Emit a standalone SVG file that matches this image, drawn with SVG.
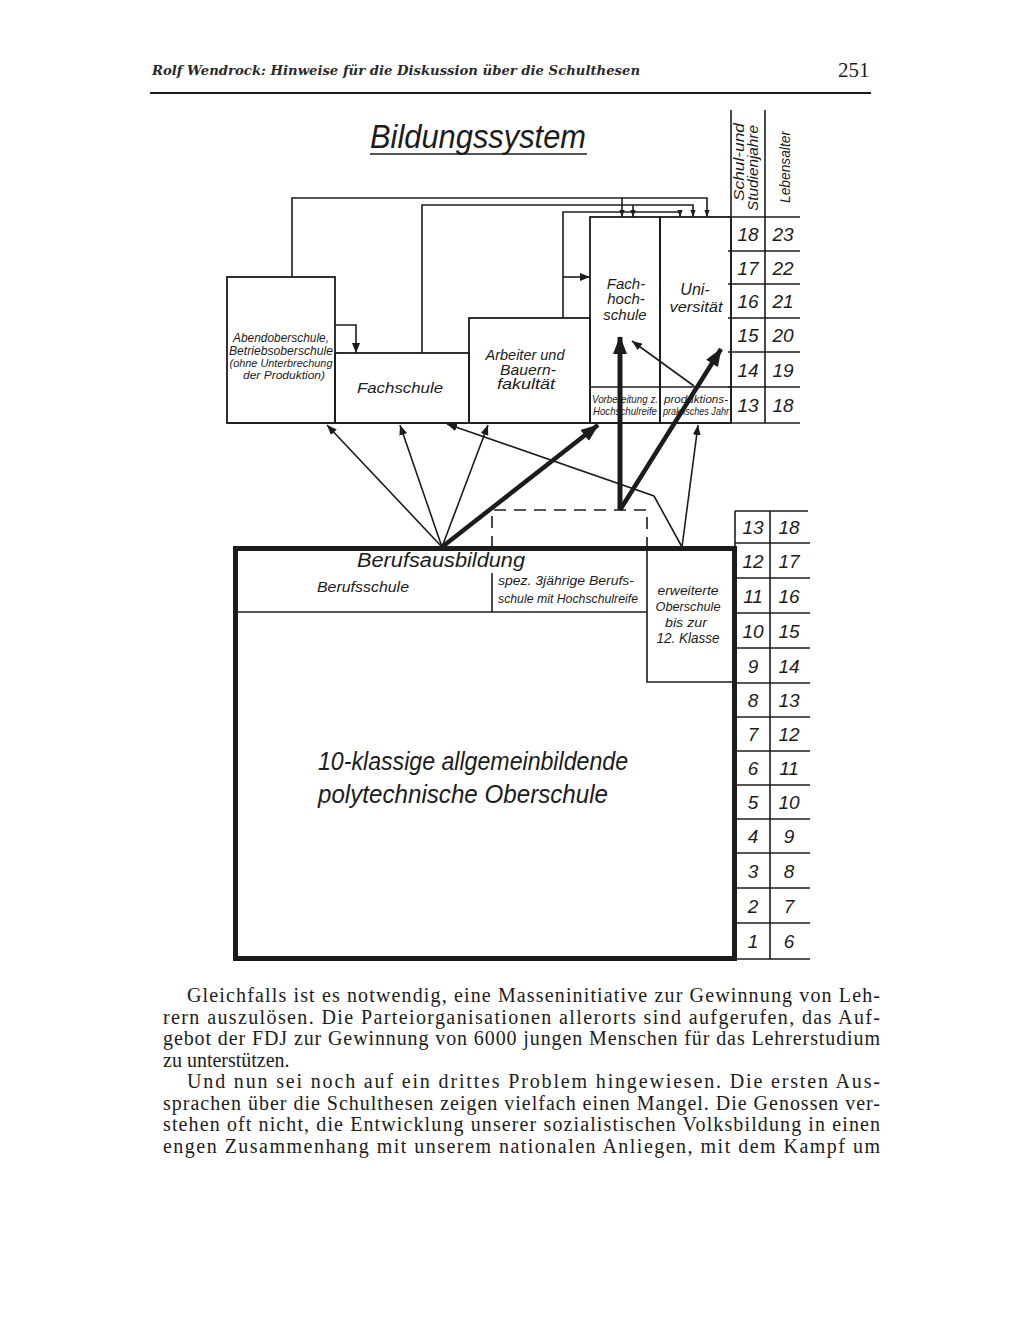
<svg xmlns="http://www.w3.org/2000/svg" width="1024" height="1324" viewBox="0 0 1024 1324">
<style>
.ln{fill:none;stroke:#1c1c1c;stroke-width:1.6}
.thick{fill:none;stroke:#1c1c1c;stroke-width:5}
.box{fill:none;stroke:#1c1c1c;stroke-width:1.8}
.d{font-family:"Liberation Sans",Arial,sans-serif;font-style:italic;fill:#1c1c1c}
.num{font-family:"Liberation Sans",Arial,sans-serif;font-style:italic;font-size:19px;fill:#1c1c1c;text-anchor:middle}
.body{font-family:"Liberation Serif","Times New Roman",serif;font-size:20px;fill:#1c1c1c}
.c{text-anchor:middle}
</style>
<defs>
<marker id="ah" viewBox="0 0 10 8" refX="10" refY="4" markerWidth="10" markerHeight="8" markerUnits="userSpaceOnUse" orient="auto"><path d="M0,0 L10,4 L0,8 z" fill="#1c1c1c"/></marker>
<marker id="ahs" viewBox="0 0 8 6" refX="8" refY="3" markerWidth="7" markerHeight="6" markerUnits="userSpaceOnUse" orient="auto"><path d="M0,0 L8,3 L0,6 z" fill="#1c1c1c"/></marker>
<marker id="ahb" viewBox="0 0 18 14" refX="17" refY="7" markerWidth="18" markerHeight="14" markerUnits="userSpaceOnUse" orient="auto"><path d="M0,0 L18,7 L0,14 z" fill="#1c1c1c"/></marker>
</defs>
<rect width="1024" height="1324" fill="#ffffff"/>

<g id="header">
<text x="152" y="75" font-family="'DejaVu Serif',serif" font-style="italic" font-weight="bold" font-size="13" fill="#2a2a2a" textLength="488" lengthAdjust="spacingAndGlyphs">Rolf Wendrock: Hinweise für die Diskussion über die Schulthesen</text>
<text x="838" y="77" font-family="'Liberation Serif',serif" font-size="21" fill="#1c1c1c">251</text>
<line x1="150" y1="93" x2="871" y2="93" stroke="#1c1c1c" stroke-width="2"/>
</g>

<g id="title">
<text x="370" y="148" class="d" font-size="33" textLength="216" lengthAdjust="spacingAndGlyphs">Bildungssystem</text>
<line x1="370" y1="154" x2="587" y2="154" stroke="#1c1c1c" stroke-width="1.6"/>
</g>

<g id="table-top">
<line class="ln" x1="731" y1="110" x2="731" y2="423"/>
<line class="ln" x1="765" y1="110" x2="765" y2="423"/>
<line class="ln" x1="728" y1="217" x2="800" y2="217"/>
<line class="ln" x1="728" y1="251" x2="800" y2="251"/>
<line class="ln" x1="728" y1="284" x2="800" y2="284"/>
<line class="ln" x1="728" y1="318" x2="800" y2="318"/>
<line class="ln" x1="728" y1="352" x2="800" y2="352"/>
<line class="ln" x1="728" y1="387" x2="800" y2="387"/>
<text class="d c" font-size="14" transform="translate(744,162) rotate(-90)" textLength="78" lengthAdjust="spacingAndGlyphs">Schul-und</text>
<text class="d c" font-size="14" transform="translate(758,168) rotate(-90)" textLength="86" lengthAdjust="spacingAndGlyphs">Studienjahre</text>
<text class="d c" font-size="14.5" transform="translate(790,167) rotate(-90)" textLength="72" lengthAdjust="spacingAndGlyphs">Lebensalter</text>
<text class="num" x="748" y="241">18</text><text class="num" x="783" y="241">23</text>
<text class="num" x="748" y="275">17</text><text class="num" x="783" y="275">22</text>
<text class="num" x="748" y="308">16</text><text class="num" x="783" y="308">21</text>
<text class="num" x="748" y="342">15</text><text class="num" x="783" y="342">20</text>
<text class="num" x="748" y="377">14</text><text class="num" x="783" y="377">19</text>
<text class="num" x="748" y="412">13</text><text class="num" x="783" y="412">18</text>
</g>

<g id="abendoberschule">
<rect class="box" x="227" y="277" width="108" height="146"/>
<text class="d c" font-size="12.5" x="281" y="342" textLength="96" lengthAdjust="spacingAndGlyphs">Abendoberschule,</text>
<text class="d c" font-size="12.5" x="281" y="355" textLength="104" lengthAdjust="spacingAndGlyphs">Betriebsoberschule</text>
<text class="d c" font-size="11.5" x="281" y="367" textLength="103" lengthAdjust="spacingAndGlyphs">(ohne Unterbrechung</text>
<text class="d c" font-size="11.5" x="284" y="379" textLength="82" lengthAdjust="spacingAndGlyphs">der Produktion)</text>
</g>

<g id="fachschule">
<rect class="box" x="335" y="353" width="134" height="70"/>
<text class="d c" font-size="15" x="400" y="393" textLength="86" lengthAdjust="spacingAndGlyphs">Fachschule</text>
</g>

<g id="abf">
<rect class="box" x="469" y="318" width="121" height="105"/>
<text class="d c" font-size="14.5" x="525" y="360" textLength="79" lengthAdjust="spacingAndGlyphs">Arbeiter und</text>
<text class="d c" font-size="14.5" x="528" y="375" textLength="56" lengthAdjust="spacingAndGlyphs">Bauern-</text>
<text class="d c" font-size="14.5" x="526" y="389" textLength="58" lengthAdjust="spacingAndGlyphs">fakultät</text>
</g>

<g id="fachhochschule">
<rect class="box" x="590" y="217" width="70" height="206"/>
<line class="ln" x1="590" y1="387" x2="731" y2="387"/>
<text class="d c" font-size="15" x="626" y="289">Fach-</text>
<text class="d c" font-size="15" x="626" y="304">hoch-</text>
<text class="d c" font-size="15" x="625" y="320">schule</text>
<text class="d c" font-size="10.5" x="625" y="403" textLength="66" lengthAdjust="spacingAndGlyphs">Vorbereitung z.</text>
<text class="d c" font-size="10.5" x="625" y="415" textLength="64" lengthAdjust="spacingAndGlyphs">Hochschulreife</text>
</g>

<g id="universitaet">
<rect class="box" x="660" y="217" width="71" height="206"/>
<text class="d c" font-size="16" x="695" y="295">Uni-</text>
<text class="d c" font-size="15" x="696" y="312" textLength="53" lengthAdjust="spacingAndGlyphs">versität</text>
<text class="d c" font-size="10.5" x="696" y="403" textLength="64" lengthAdjust="spacingAndGlyphs">produktions-</text>
<text class="d c" font-size="10.5" x="696" y="415" textLength="66" lengthAdjust="spacingAndGlyphs">praktisches Jahr</text>
</g>

<line class="ln" x1="227" y1="423" x2="800" y2="423" stroke-width="2"/>

<g id="volksschule">
<rect x="235.5" y="548.5" width="499" height="410" fill="none" stroke="#1c1c1c" stroke-width="5"/>
<text class="d c" font-size="25" x="473" y="770" textLength="310" lengthAdjust="spacingAndGlyphs">10-klassige allgemeinbildende</text>
<text class="d c" font-size="25" x="463" y="803" textLength="290" lengthAdjust="spacingAndGlyphs">polytechnische Oberschule</text>
</g>

<g id="berufsausbildung">
<line class="ln" x1="238" y1="612" x2="647" y2="612"/>
<line class="ln" x1="492" y1="573" x2="492" y2="612"/>
<text class="d c" font-size="20" x="441" y="567" textLength="168" lengthAdjust="spacingAndGlyphs">Berufsausbildung</text>
<text class="d c" font-size="14" x="363" y="592" textLength="92" lengthAdjust="spacingAndGlyphs">Berufsschule</text>
<text class="d c" font-size="12.5" x="566" y="585" textLength="136" lengthAdjust="spacingAndGlyphs">spez. 3jährige Berufs-</text>
<text class="d c" font-size="12.5" x="568" y="603" textLength="140" lengthAdjust="spacingAndGlyphs">schule mit Hochschulreife</text>
</g>

<g id="erweiterte-oberschule">
<path class="ln" d="M647,548 V682 H735"/>
<text class="d c" font-size="13.5" x="688" y="595" textLength="61" lengthAdjust="spacingAndGlyphs">erweiterte</text>
<text class="d c" font-size="13.5" x="688" y="611" textLength="65" lengthAdjust="spacingAndGlyphs">Oberschule</text>
<text class="d c" font-size="13.5" x="686" y="627" textLength="42" lengthAdjust="spacingAndGlyphs">bis zur</text>
<text class="d c" font-size="15.5" x="688" y="643" textLength="63" lengthAdjust="spacingAndGlyphs">12. Klasse</text>
</g>

<g id="dashed">
<path d="M492,548 V510 H647 V548" fill="none" stroke="#1c1c1c" stroke-width="1.6" stroke-dasharray="12,8"/>
</g>

<g id="table-bottom">
<line class="ln" x1="735" y1="511" x2="808" y2="511"/>
<line class="ln" x1="735" y1="511" x2="735" y2="548"/>
<line class="ln" x1="770" y1="511" x2="770" y2="959"/>
<line class="ln" x1="735" y1="543" x2="810" y2="543"/>
<line class="ln" x1="735" y1="578" x2="810" y2="578"/>
<line class="ln" x1="735" y1="613" x2="810" y2="613"/>
<line class="ln" x1="735" y1="648" x2="810" y2="648"/>
<line class="ln" x1="735" y1="683" x2="810" y2="683"/>
<line class="ln" x1="735" y1="717" x2="810" y2="717"/>
<line class="ln" x1="735" y1="751" x2="810" y2="751"/>
<line class="ln" x1="735" y1="785" x2="810" y2="785"/>
<line class="ln" x1="735" y1="819" x2="810" y2="819"/>
<line class="ln" x1="735" y1="853" x2="810" y2="853"/>
<line class="ln" x1="735" y1="888" x2="810" y2="888"/>
<line class="ln" x1="735" y1="923" x2="810" y2="923"/>
<line class="ln" x1="735" y1="959" x2="810" y2="959"/>
<text class="num" x="753" y="534">13</text><text class="num" x="789" y="534">18</text>
<text class="num" x="753" y="568">12</text><text class="num" x="789" y="568">17</text>
<text class="num" x="753" y="603">11</text><text class="num" x="789" y="603">16</text>
<text class="num" x="753" y="638">10</text><text class="num" x="789" y="638">15</text>
<text class="num" x="753" y="673">9</text><text class="num" x="789" y="673">14</text>
<text class="num" x="753" y="707">8</text><text class="num" x="789" y="707">13</text>
<text class="num" x="753" y="741">7</text><text class="num" x="789" y="741">12</text>
<text class="num" x="753" y="775">6</text><text class="num" x="789" y="775">11</text>
<text class="num" x="753" y="809">5</text><text class="num" x="789" y="809">10</text>
<text class="num" x="753" y="843">4</text><text class="num" x="789" y="843">9</text>
<text class="num" x="753" y="878">3</text><text class="num" x="789" y="878">8</text>
<text class="num" x="753" y="913">2</text><text class="num" x="789" y="913">7</text>
<text class="num" x="753" y="948">1</text><text class="num" x="789" y="948">6</text>
</g>

<g id="connectors">
<path class="ln" d="M292,277 V198 H707 V217" marker-end="url(#ahs)"/>
<path class="ln" d="M622,198 V217" marker-end="url(#ahs)"/>
<path class="ln" d="M422,353 V205 H693 V217" marker-end="url(#ahs)"/>
<path class="ln" d="M633,205 V217" marker-end="url(#ahs)"/>
<path class="ln" d="M563,318 V212 H680 V217" marker-end="url(#ahs)"/>
<path class="ln" d="M563,277 H590" marker-end="url(#ah)"/>
<path class="ln" d="M335,325 H356 V353" marker-end="url(#ah)"/>
<path class="ln" d="M442,547 L327,425" marker-end="url(#ah)"/>
<path class="ln" d="M442,547 L400,425" marker-end="url(#ah)"/>
<path class="ln" d="M442,547 L488,425" marker-end="url(#ah)"/>
<path d="M442,547 L598,425" fill="none" stroke="#1c1c1c" stroke-width="4.5" marker-end="url(#ahb)"/>
<path class="ln" d="M682,547 L654,496 L447,424" marker-end="url(#ah)"/>
<path class="ln" d="M682,547 L698,425" marker-end="url(#ah)"/>
<path d="M620,510 V337" fill="none" stroke="#1c1c1c" stroke-width="5" marker-end="url(#ahb)"/>
<path d="M620,510 L721,349" fill="none" stroke="#1c1c1c" stroke-width="4.5" marker-end="url(#ahb)"/>
<path class="ln" d="M694,386 L632,341" marker-end="url(#ah)"/>
</g>

<g id="body-text">
<text class="body" x="187" y="1002" textLength="693" lengthAdjust="spacing">Gleichfalls ist es notwendig, eine Masseninitiative zur Gewinnung von Leh-</text>
<text class="body" x="163" y="1023.5" textLength="717" lengthAdjust="spacing">rern auszulösen. Die Parteiorganisationen allerorts sind aufgerufen, das Auf-</text>
<text class="body" x="163" y="1045" textLength="717" lengthAdjust="spacing">gebot der FDJ zur Gewinnung von 6000 jungen Menschen für das Lehrerstudium</text>
<text class="body" x="163" y="1066.5">zu unterstützen.</text>
<text class="body" x="187" y="1088" textLength="693" lengthAdjust="spacing">Und nun sei noch auf ein drittes Problem hingewiesen. Die ersten Aus-</text>
<text class="body" x="163" y="1109.5" textLength="717" lengthAdjust="spacing">sprachen über die Schulthesen zeigen vielfach einen Mangel. Die Genossen ver-</text>
<text class="body" x="163" y="1131" textLength="717" lengthAdjust="spacing">stehen oft nicht, die Entwicklung unserer sozialistischen Volksbildung in einen</text>
<text class="body" x="163" y="1152.5" textLength="717" lengthAdjust="spacing">engen Zusammenhang mit unserem nationalen Anliegen, mit dem Kampf um</text>
</g>
</svg>
